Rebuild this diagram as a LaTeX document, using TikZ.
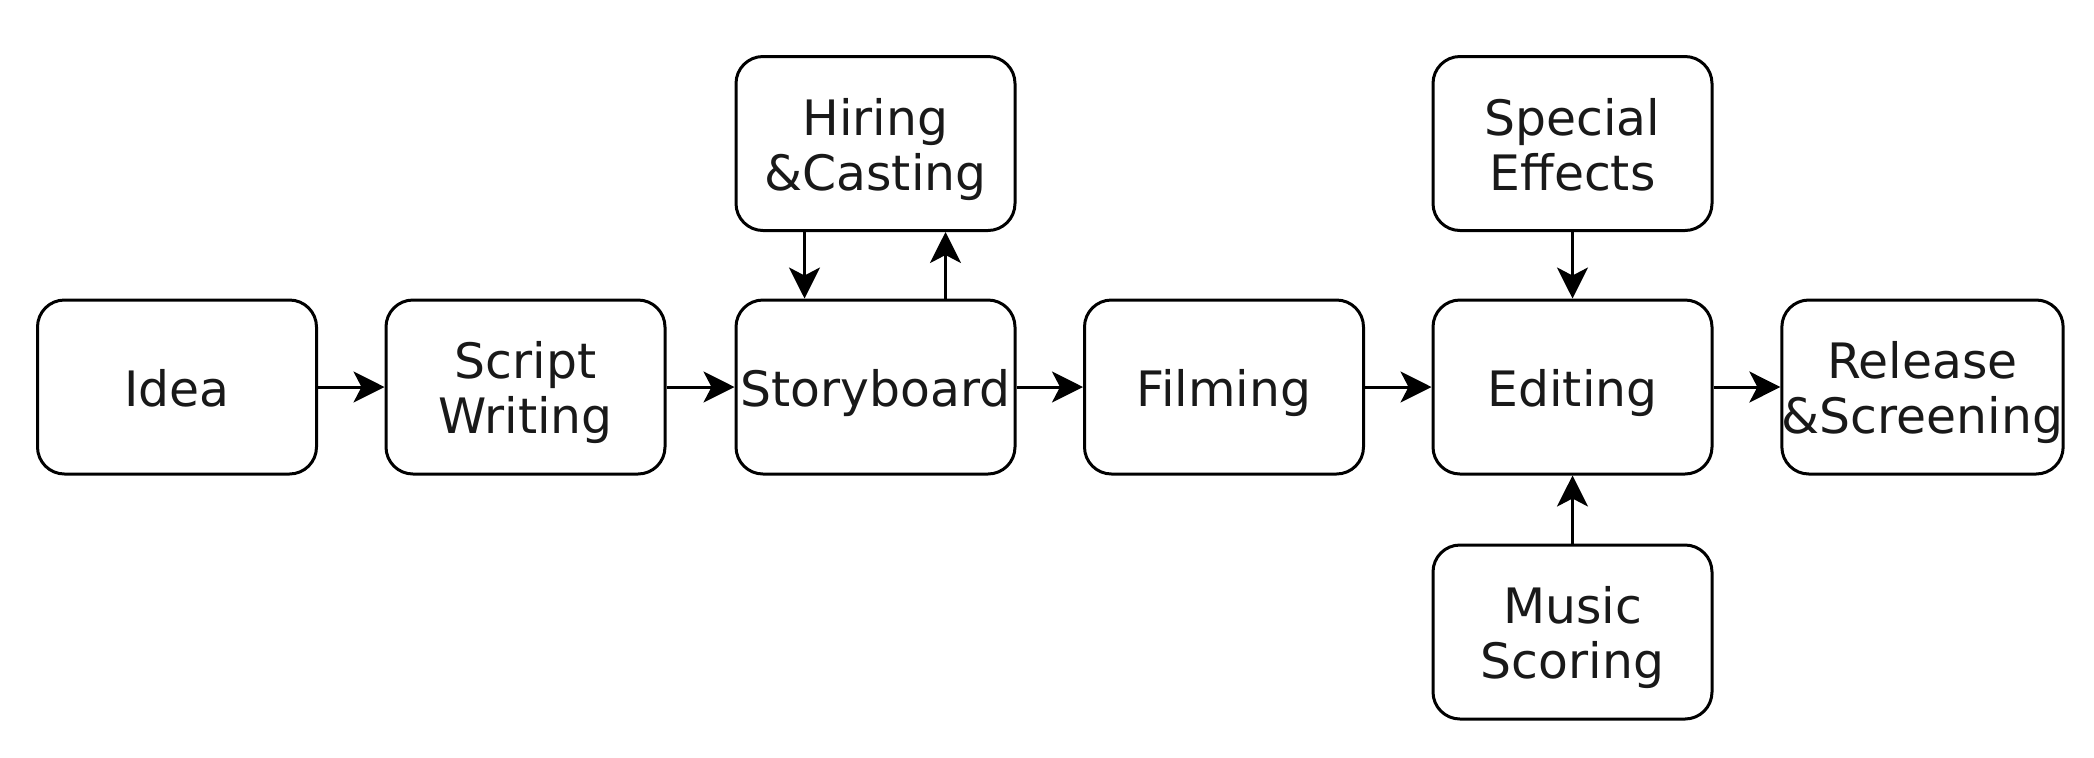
\documentclass[tikz,border=0pt]{standalone}
\usepackage{fontspec}
\setmainfont{DejaVu Sans}
\usetikzlibrary{arrows.meta}
\newcommand\topstrut{\rule{0pt}{27pt}}
\newcommand\botstrut{\rule[-7.8pt]{0pt}{7.8pt}}
\begin{document}
\begin{tikzpicture}[x=0.5pt,y=-0.5pt,
  box/.style={draw=black, line width=1.5pt, rounded corners=13.5pt, fill=white,
    minimum width=139.5pt, minimum height=87pt, inner sep=0pt, align=center,
    font=\fontsize{24.4pt}{27.4pt}\selectfont, text=black!90,
    execute at begin node=\topstrut, execute at end node=\botstrut},
  arr/.style={draw=black, line width=1.5pt, -{Stealth[length=15.5pt, width=15.5pt, inset=4pt]}}]
\useasboundingbox (0,0) rectangle (2094,757);
\node[box] (idea) at (177,387) {Idea};
\node[box] (script) at (525.5,387) {\topstrut Script\\Writing};
\node[box] (sb) at (875.5,387) {Storyboard};
\node[box] (film) at (1224,387) {Filming};
\node[box] (edit) at (1572.5,387) {Editing};
\node[box] (rel) at (1922.5,387) {\topstrut Release\\\&Screening};
\node[box] (hire) at (875.5,143.5) {\topstrut Hiring\\\&Casting};
\node[box] (sfx) at (1572.5,143.5) {\topstrut Special\\Effects};
\node[box] (music) at (1572.5,632) {\topstrut Music\\Scoring};
\draw[arr] (idea) -- (script);
\draw[arr] (script) -- (sb);
\draw[arr] (sb) -- (film);
\draw[arr] (film) -- (edit);
\draw[arr] (edit) -- (rel);
\draw[arr] ([xshift=-35.5pt]hire.south) -- ([xshift=-35.5pt]sb.north);
\draw[arr] ([xshift=35pt]sb.north) -- ([xshift=35pt]hire.south);
\draw[arr] (sfx) -- (edit);
\draw[arr] (music) -- (edit);
\end{tikzpicture}
\end{document}
